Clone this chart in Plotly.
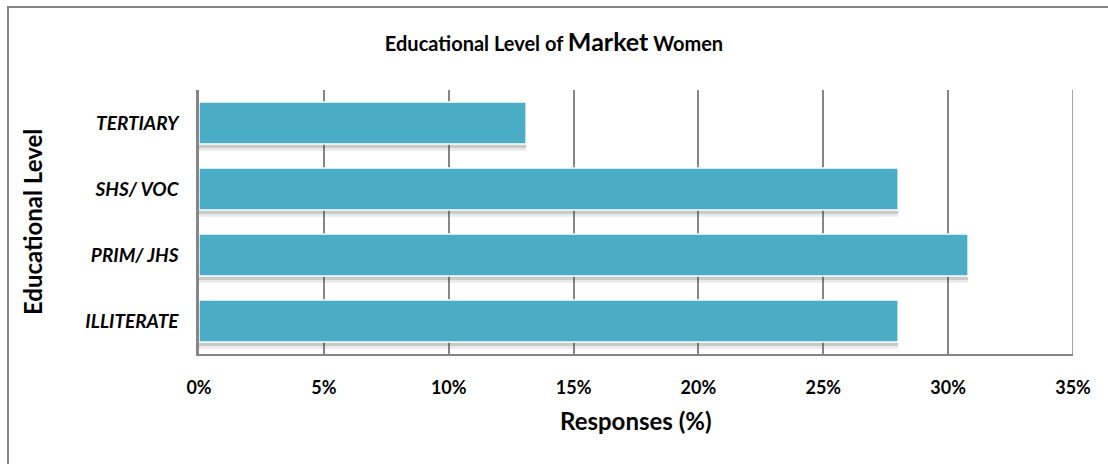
import plotly.graph_objects as go

categories = ["ILLITERATE", "PRIM/ JHS", "SHS/ VOC", "TERTIARY"]
responses = [28.0, 30.8, 28.0, 13.1]
tick_vals = [0, 5, 10, 15, 20, 25, 30, 35]
tick_text = ["0%", "5%", "10%", "15%", "20%", "25%", "30%", "35%"]

FONT = "Lato"
BAR_W = 0.64
L, R, T, B = 199, 35, 90, 110
PW, PH = 1108 - L - R, 464 - T - B
GRID = "#868686"

fig = go.Figure()
# soft shadow under bars (two layers for a gradient look)
for extra, alpha in [(0.10, 0.11), (0.06, 0.18)]:
    fig.add_trace(go.Bar(
        x=responses, y=categories, orientation="h",
        width=BAR_W, offset=-BAR_W / 2 - extra,
        marker=dict(color=f"rgba(60,60,60,{alpha})", line=dict(width=0)),
        hoverinfo="skip", showlegend=False,
    ))
fig.add_trace(go.Bar(
    x=responses, y=categories, orientation="h",
    width=BAR_W, offset=-BAR_W / 2,
    marker=dict(color="#4BACC6", line=dict(color="white", width=1.5)),
    showlegend=False,
))

fig.update_layout(
    width=1108, height=464,
    margin=dict(l=L, r=R, t=T, b=B),
    paper_bgcolor="white", plot_bgcolor="white",
    barmode="overlay",
    font=dict(family=FONT, color="black"),
    title=dict(
        text="<b>Educational Level of <span style='font-size:25px'>Market</span> Women</b>",
        x=0.5, xanchor="center", y=1 - 44 / 464, yanchor="middle",
        font=dict(family=FONT, size=20, color="black"),
    ),
    xaxis=dict(
        range=[0, 35], tickvals=tick_vals, ticktext=tick_text,
        showgrid=True, gridcolor=GRID, gridwidth=1.5,
        showline=True, linecolor=GRID, linewidth=2,
        zeroline=False, ticks="", ticklabelstandoff=16,
        tickfont=dict(family=FONT, size=18, color="black", weight="bold"),
        fixedrange=True,
    ),
    yaxis=dict(
        type="category", categoryorder="array", categoryarray=categories,
        range=[-0.5, 3.5],
        showgrid=False, showline=True, linecolor=GRID, linewidth=2.5,
        ticks="", ticklabelstandoff=14,
        tickfont=dict(family=FONT, size=19, color="black", weight="bold", style="italic"),
        fixedrange=True,
    ),
    annotations=[
        dict(text="<b>Responses (%)</b>", xref="paper", yref="paper",
             x=0.5, y=(T + PH - 420) / PH, xanchor="center", yanchor="middle",
             showarrow=False, font=dict(family=FONT, size=24, color="black")),
        dict(text="<b>Educational Level</b>", xref="paper", yref="paper",
             x=(32 - L) / PW, y=0.5, xanchor="center", yanchor="middle", textangle=-90,
             showarrow=False, font=dict(family=FONT, size=24, color="black")),
    ],
    shapes=[
        dict(type="rect", xref="paper", yref="paper",
             x0=(8 - L) / PW, x1=1.2, y0=-0.6, y1=1 + (T - 7) / PH,
             line=dict(color=GRID, width=2), fillcolor="rgba(0,0,0,0)", layer="below"),
        # last gridline at the right edge of the plot area
        dict(type="line", xref="x", yref="paper",
             x0=tick_vals[-1], x1=tick_vals[-1], y0=0, y1=1,
             line=dict(color=GRID, width=1.5), layer="below"),
    ],
)

fig.write_html("out.html", config={"displayModeBar": False},
               post_script="document.body.style.margin='0';document.body.style.overflow='hidden';")
